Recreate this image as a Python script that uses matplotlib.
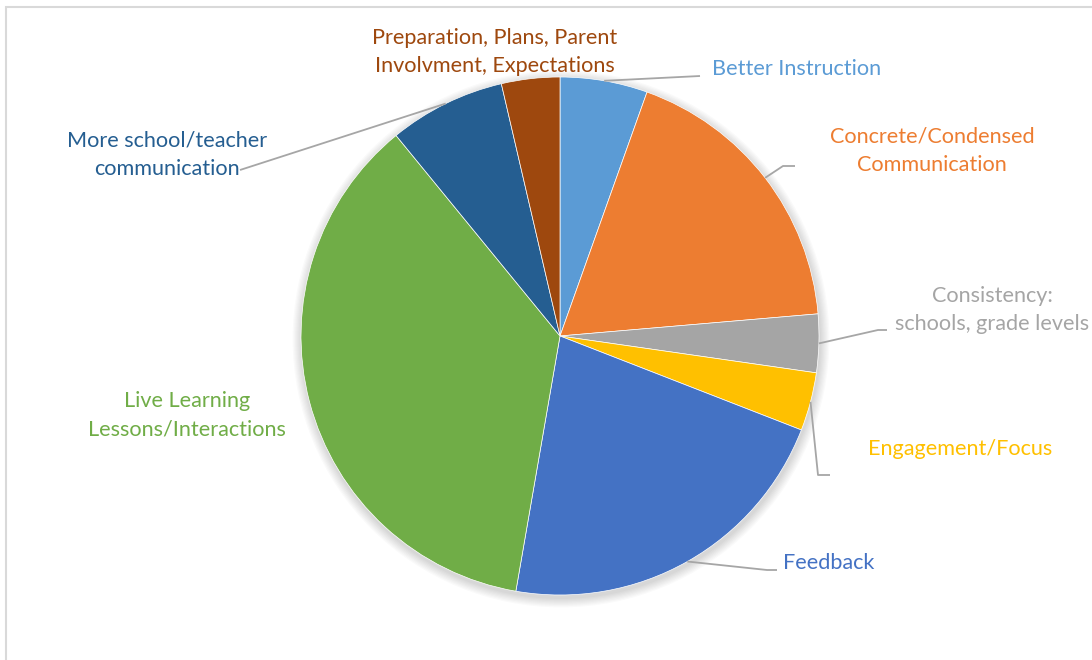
import numpy as np
import matplotlib
matplotlib.use("Agg")
from matplotlib import pyplot as plt
from matplotlib.patches import Circle, Rectangle

plt.rcParams['font.family'] = ['Lato', 'DejaVu Sans']

# slice data (counts), clockwise from 12 o'clock
categories = ["Better Instruction", "Concrete/Condensed\nCommunication",
              "Consistency:\nschools, grade levels", "Engagement/Focus",
              "Feedback", "Live Learning\nLessons/Interactions",
              "More school/teacher\ncommunication",
              "Preparation, Plans, Parent\nInvolvment, Expectations"]
counts = [3, 10, 2, 2, 12, 20, 4, 2]
colors = ["#5B9BD5", "#ED7D31", "#A5A5A5", "#FFC000",
          "#4472C4", "#70AD47", "#255E91", "#9E480E"]

W, H = 1092, 660
fig = plt.figure(figsize=(W / 100, H / 100), dpi=100)
ax = fig.add_axes([0, 0, 1, 1])

cx, cy, R = 560, H - 336, 259

# chart frame
ax.add_patch(Rectangle((5.5, -10), W + 20, H - 6.5 + 10, fill=False,
                       edgecolor="#d9d9d9", lw=1.5, zorder=0))

# soft shadow under the pie
for k in range(8):
    ax.add_patch(Circle((cx + 1, cy - 3), R + 1 + k * 1.2, color="black",
                        alpha=0.018, lw=0, zorder=1))

wedges, _ = ax.pie(counts, colors=colors, startangle=90, counterclock=False,
                   center=(cx, cy), radius=R, frame=True,
                   wedgeprops=dict(linewidth=0.5, edgecolor="white"))
for w in wedges:
    w.set_zorder(2)
ax.set_xlim(0, W)
ax.set_ylim(0, H)
ax.set_aspect('equal')
ax.axis('off')

# label placement (pixel coords, y from top) and leader elbows
label_pos = [(712, 69, 'left'), (932, 151, 'center'), (992, 310, 'center'),
             (960, 449, 'center'), (829, 563, 'center'), (187, 415, 'center'),
             (167, 155, 'center'), (495, 52, 'center')]
elbows = [[(700, 76)], [(783, 166), (795, 166)], [(878, 330), (887, 330)],
          [(818, 475), (830, 475)], [(767, 570), (777, 570)], None,
          [(240, 170)], None]

total = sum(counts)
cum = np.cumsum([0] + counts)
for i, (lab, col) in enumerate(zip(categories, colors)):
    x, y, ha = label_pos[i]
    ax.text(x, H - y, lab, color=col, fontsize=15.6, ha=ha, va='center',
            multialignment='center', linespacing=1.56, zorder=5)
    if elbows[i] is None:
        continue
    mid = np.deg2rad((cum[i] + counts[i] / 2) / total * 360)
    px = [cx + R * np.sin(mid)] + [p[0] for p in elbows[i]]
    py = [cy + R * np.cos(mid)] + [H - p[1] for p in elbows[i]]
    ax.plot(px, py, color="#a6a6a6", lw=1.3, zorder=4, solid_capstyle='butt')

fig.savefig("out.png", dpi=100, facecolor="white")
